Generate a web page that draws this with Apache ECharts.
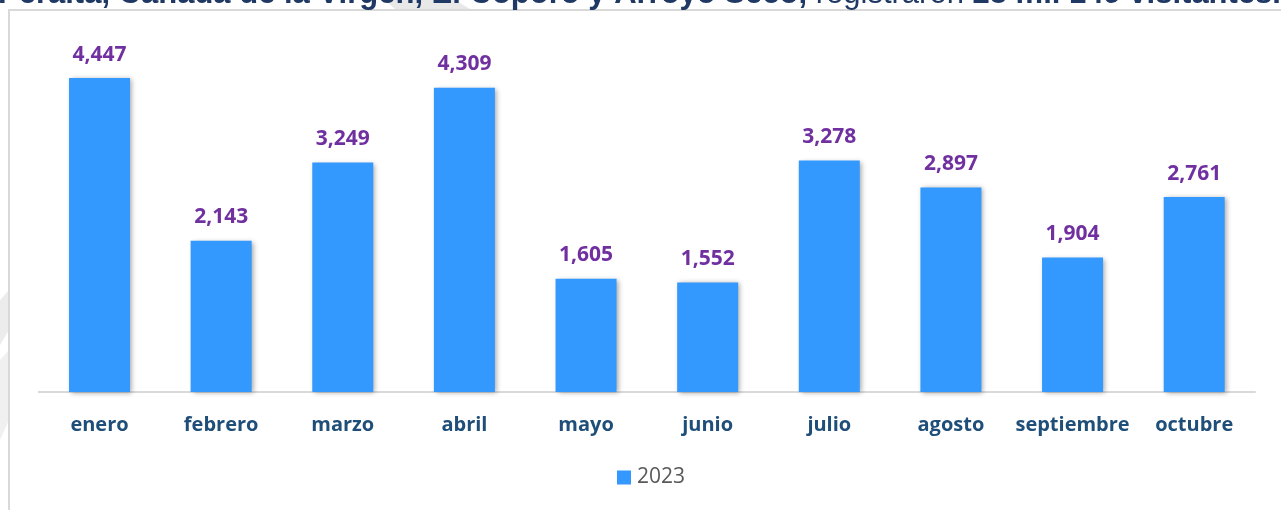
<!DOCTYPE html>
<html>
<head>
<meta charset="utf-8">
<script src="https://cdn.jsdelivr.net/npm/echarts@6/dist/echarts.min.js"></script>
<style>
  html, body { margin: 0; padding: 0; background: #fff; }
  #chart { width: 1281px; height: 510px; }
</style>
</head>
<body>
<div id="chart"></div>
<script>
// meses y visitantes 2023
var months = ['enero', 'febrero', 'marzo', 'abril', 'mayo', 'junio', 'julio', 'agosto', 'septiembre', 'octubre'];
var visitors2023 = [4447, 2143, 3249, 4309, 1605, 1552, 3278, 2897, 1904, 2761];
var seriesName = '2023';

var myChart = echarts.init(document.getElementById('chart'));

myChart.setOption({
  backgroundColor: '#ffffff',
  animation: false,
  graphic: [
    // marca de agua gris a la izquierda
    {
      type: 'polygon', silent: true, z: 0,
      shape: { points: [[0, 300], [9, 290], [9, 330], [0, 345]] },
      style: { fill: '#ececec' }
    },
    {
      type: 'polygon', silent: true, z: 0,
      shape: { points: [[0, 360], [9, 350], [9, 420], [0, 440]] },
      style: { fill: '#f0f0f0' }
    },
    {
      type: 'polygon', silent: true, z: 0,
      shape: { points: [[385, 0], [455, 0], [470, 9], [395, 9]] },
      style: { fill: '#e8e8e8' }
    },
    // marco del grafico
    {
      type: 'rect', silent: true, z: 1,
      shape: { x: 9, y: 10, width: 1300, height: 520 },
      style: { fill: 'none', stroke: '#d9d9d9', lineWidth: 2 }
    },
    // texto del titulo (recortado arriba)
    {
      type: 'text', z: 2, left: -2, top: -21,
      style: {
        text: '{b|Peralta, Cañada de la Virgen, El Cóporo y Arroyo Seco,}{n| registraron }{b|28 mil 149 visitantes.}',
        rich: {
          b: { fontFamily: 'Liberation Sans', fontWeight: 'bold', fontSize: 31, fill: '#1f3864' },
          n: { fontFamily: 'Liberation Sans', fontSize: 31, fill: '#1f3864' }
        }
      }
    }
  ],
  legend: {
    data: [seriesName],
    top: 462,
    left: 612,
    itemWidth: 14,
    itemHeight: 14,
    itemGap: 6,
    icon: 'rect',
    textStyle: { color: '#595959', fontFamily: 'Open Sans', fontSize: 21, padding: [0, 0, 0, 1] }
  },
  grid: {
    left: 38.7,
    right: 26,
    top: 39,
    bottom: 118
  },
  xAxis: {
    type: 'category',
    data: months,
    axisLine: { lineStyle: { color: '#d9d9d9', width: 2 } },
    axisTick: { show: false },
    axisLabel: {
      interval: 0,
      margin: 23,
      color: '#1f4e79',
      fontFamily: 'Open Sans',
      fontWeight: 'bold',
      fontSize: 20
    }
  },
  yAxis: {
    type: 'value',
    min: 0,
    max: 5000,
    show: false,
    splitLine: { show: false }
  },
  series: [{
    name: seriesName,
    type: 'bar',
    data: visitors2023,
    barWidth: 61,
    itemStyle: {
      color: '#3399ff',
      shadowColor: 'rgba(0, 0, 0, 0.35)',
      shadowBlur: 5,
      shadowOffsetX: 2,
      shadowOffsetY: 1
    },
    label: {
      show: true,
      position: 'top',
      distance: 13,
      color: '#7030a0',
      fontFamily: 'Open Sans',
      fontWeight: 'bold',
      fontSize: 21,
      formatter: function (p) {
        return p.value.toLocaleString('en-US');
      }
    }
  }]
});
</script>
</body>
</html>
